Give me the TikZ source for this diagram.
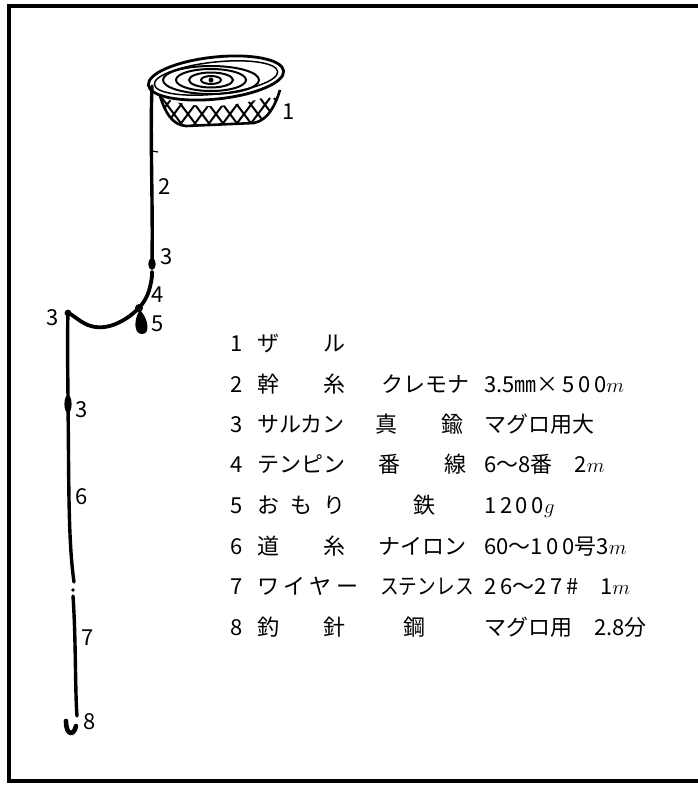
\documentclass[tikz,border=0pt]{standalone}
\usepackage{fontspec}
\setmainfont{Noto Sans CJK JP}

\begin{document}
\begin{tikzpicture}[x=1pt,y=-1pt,
  line/.style={line width=3.4pt,line cap=round},
  num/.style={font=\fontsize{22}{26}\selectfont,inner sep=0pt},
  cell/.style={num,anchor=west,text height=19pt,text depth=3pt}]
\useasboundingbox (0,0) rectangle (697,785);

% frame
\draw[line width=4pt] (9,6) rectangle (702,781);

% basket: rim, coiled line, net
\draw[line width=2.8pt,rotate around={6:(216,78)}] (216,78) ellipse [x radius=68, y radius=21];
\draw[line width=1.5pt,rotate around={6:(216,78)}] (216,78) ellipse [x radius=62, y radius=16];
\foreach \rx/\ry in {10/4,22/7.5,35/11,48/14}
  \draw[line width=2pt] (211,80) ellipse [x radius=\rx, y radius=\ry];
\fill (211,80) circle (2.5);
\draw[line width=2.6pt] (160,96) .. controls (165,112) and (172,125) .. (186,126)
  -- (254,123) .. controls (268,120) and (275,106) .. (280,90);
\begin{scope}
  \clip (160,96) .. controls (165,112) and (172,125) .. (186,126)
    -- (254,123) .. controls (268,120) and (275,106) .. (280,90)
    .. controls (250,108) and (190,112) .. (160,96);
  \foreach \k in {0,...,10} {
    \draw[line width=2pt] (148+14*\k,98) -- (172+14*\k,130);
    \draw[line width=2pt] (172+14*\k,98) -- (148+14*\k,130);
  }
\end{scope}

% main line and swivel
\coordinate (rim) at (152,86);
\coordinate (swA) at (152,262);
\coordinate (swB) at (152,276);
\coordinate (wire) at (139,308);
\coordinate (swC) at (68,313);
\draw[line] (rim) .. controls (150,140) and (153,200) .. (swA);
\draw[line width=1.2pt] (152,151) -- (158,152);
\fill (152,264) ellipse [x radius=3.6, y radius=6];
\draw[line] (152,272) -- (swB);

% tenbin with sinker
\draw[line,line width=3.8pt] (swB) .. controls (150,292) and (146,300) .. (wire)
  .. controls (125,322) and (105,332) .. (88,325)
  .. controls (80,322) and (72,314) .. (swC);
\fill (swC) circle (3.4);
\draw[line width=1.8pt] (wire) circle (3);
\fill (140,310) .. controls (134,318) and (133,334) .. (142,334)
  .. controls (151,334) and (148,318) .. (140,310);

% branch line, wire and hook
\coordinate (swD) at (68,404);
\coordinate (cut) at (74,582);
\coordinate (hook) at (77,716);
\draw[line] (swC) .. controls (67,340) and (68,380) .. (swD)
  .. controls (69,480) and (68,540) .. (cut);
\fill (swD) ellipse [x radius=3.6, y radius=9];
\fill (73,590) circle (1.8);
\draw[line] (73,596) .. controls (76,640) and (75,690) .. (hook);
\draw[line width=4.6pt,line cap=round] (66,721) .. controls (66,736) and (74,736) .. (76,726);

% part numbers on the drawing
\foreach \x/\y/\t [count=\i] in {289/112/1,165/187/2,167/257/3,158/295/4,158/324/5,
    53/318/3,82/410/3,82/497/6,88/638/7,90/722/8}
  \node[num] (p\i) at (\x,\y) {\t};

% parts list
\foreach \y/\n/\a/\xb/\b/\c [count=\i] in {
  343/1/{ザ　　ル}/380/{}/{},
  384/2/{幹　　糸}/381/{クレモナ}/{3.5㎜×\,5\,0\,0$m$},
  424/3/{サルカン}/375/{真　　鍮}/{マグロ用大},
  464/4/{テンピン}/378/{番　　線}/{6〜8番　2$m$},
  505/5/{お\hspace{0.5em}も\hspace{0.5em}り}/413/{鉄}/{1\,2\,0\,0$g$},
  546/6/{道　　糸}/378/{ナイロン}/{60〜1\,0\,0号3$m$},
  586/7/{ワ\hspace{0.2em}イ\hspace{0.2em}ヤ\hspace{0.2em}ー}/380/{\scalebox{0.85}[1]{ステンレス}}/{2\,6〜2\,7\,\#　1$m$},
  627/8/{釣　　針}/403/{鋼}/{マグロ用　2.8分}}
{
  \node[cell] (n\i) at (230,\y) {\n};
  \node[cell] (a\i) at (257,\y) {\a};
  \node[cell] (b\i) at (\xb,\y) {\b};
  \node[cell] (c\i) at (484,\y) {\c};
}
\end{tikzpicture}
\end{document}
